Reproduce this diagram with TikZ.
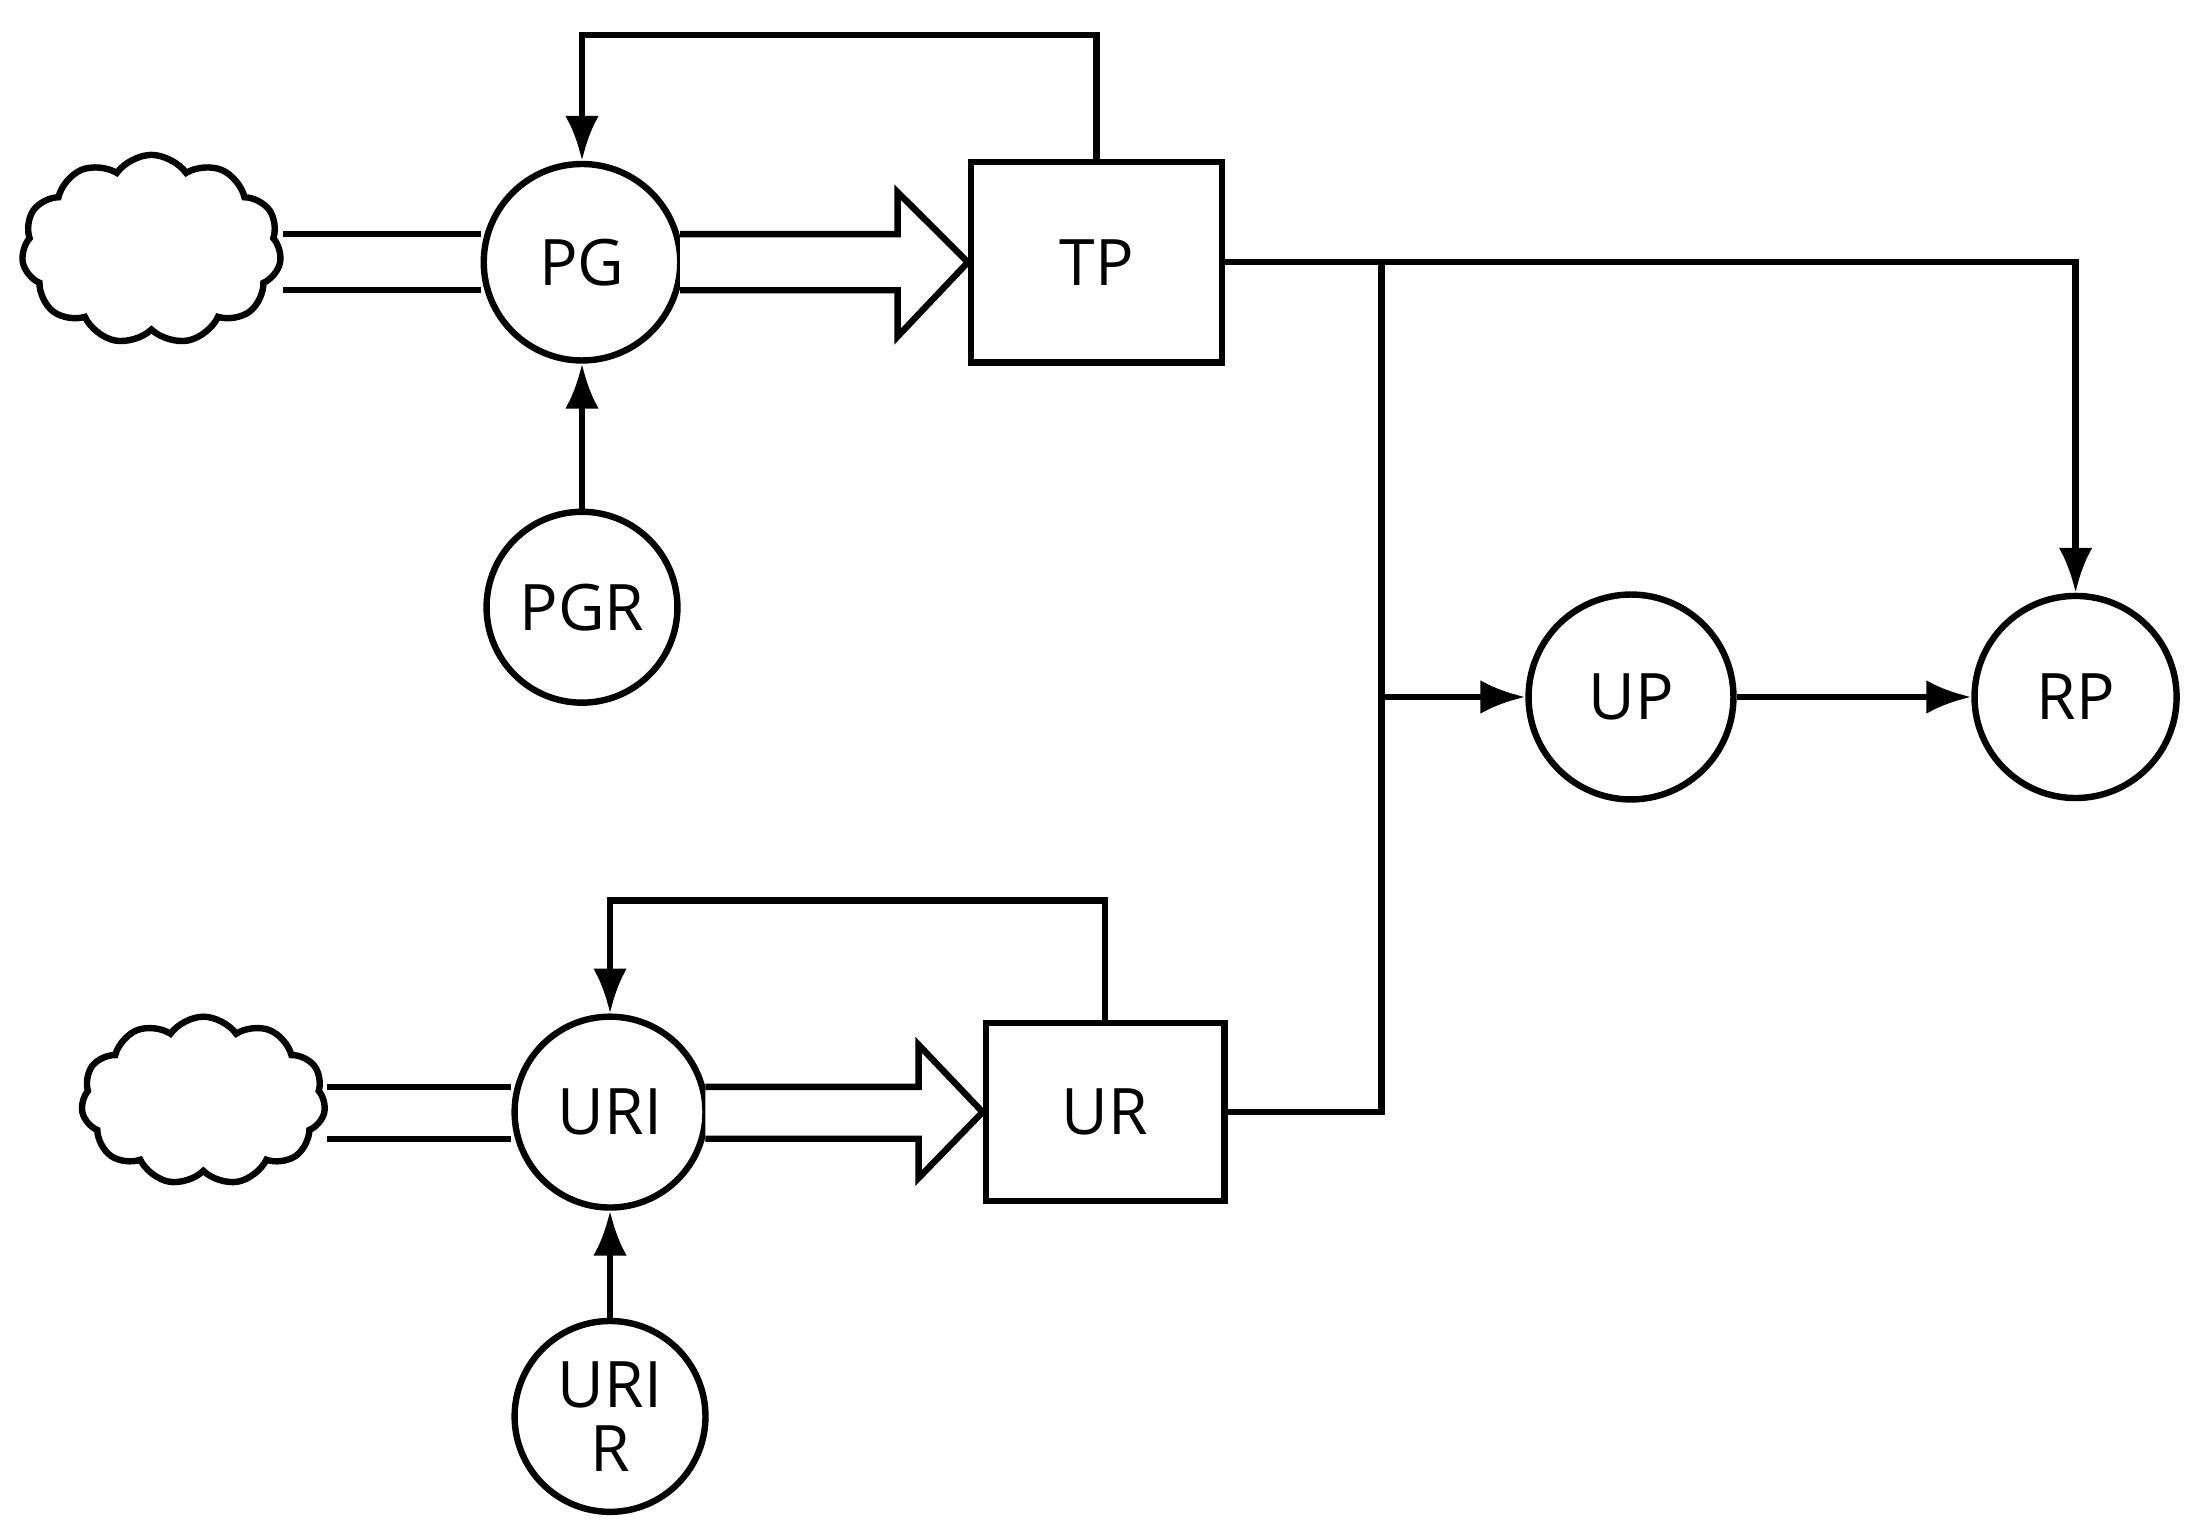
\documentclass[tikz,border=0pt]{standalone}
\usepackage{fontspec}
\setmainfont{Open Sans}
\usetikzlibrary{shapes.symbols,arrows.meta}
\begin{document}
\begin{tikzpicture}[x=0.01cm,y=-0.01cm,line width=1.3pt,
  circ/.style={circle,draw,minimum size=#1*0.02cm,inner sep=0pt,font=\fontsize{13}{15}\selectfont,align=center},
  box/.style={draw,rectangle,inner sep=0pt,font=\fontsize{13}{15}\selectfont},
  cl/.style={cloud,draw,cloud puffs=11,cloud puff arc=110,aspect=1.4,inner sep=0pt},
  arr/.style={-{Latex[length=0.32cm,width=0.24cm]}}]
\useasboundingbox (0,0) rectangle (1568,1092);
% nodes
\node[cl,minimum width=1.85cm,minimum height=1.35cm] (c1) at (108,178) {};
\node[circ=70] (PG) at (415,187) {PG};
\node[box,minimum width=1.79cm,minimum height=1.43cm] (TP) at (782,187) {TP};
\node[circ=68] (PGR) at (415,433) {PGR};
\node[circ=73] (UP) at (1163,497) {UP};
\node[circ=72] (RP) at (1480,497) {RP};
\node[cl,minimum width=1.74cm,minimum height=1.2cm] (c2) at (145,785) {};
\node[circ=68] (URI) at (435,793) {URI};
\node[box,minimum width=1.70cm,minimum height=1.27cm] (UR) at (788,793) {UR};
\node[circ=68] (URIR) at (435,1010) {URI\\[-2pt]R};
\coordinate (j1) at (985,187);
\coordinate (j2) at (985,497);
\coordinate (j3) at (985,793);
% flows top
\draw (c1.east |- 0,167) -- (PG.west |- 0,167);
\draw (c1.east |- 0,207) -- (PG.west |- 0,207);
\draw[fill=white,line join=miter] (485,167)--(640,167)--(640,137)--(TP.west)--(640,240)--(640,207)--(485,207);
% flows bottom
\draw (c2.east |- 0,775) -- (URI.west |- 0,775);
\draw (c2.east |- 0,812) -- (URI.west |- 0,812);
\draw[fill=white,line join=miter] (503,775)--(655,775)--(655,745)--(UR.west)--(655,840)--(655,812)--(503,812);
% feedbacks
\draw[arr] (TP.north) -- (782,25) -- (415,25) -- (PG.north);
\draw[arr] (UR.north) -- (788,642) -- (435,642) -- (URI.north);
\draw[arr] (PGR) -- (PG);
\draw[arr] (URIR) -- (URI);
% info lines
\draw (TP.east) -- (j1);
\draw[arr] (j1) -- (1480,187) -- (RP.north);
\draw (UR.east) -- (j3) -- (j1);
\draw[arr] (j2) -- (UP.west);
\draw[arr] (UP) -- (RP);
\end{tikzpicture}
\end{document}
